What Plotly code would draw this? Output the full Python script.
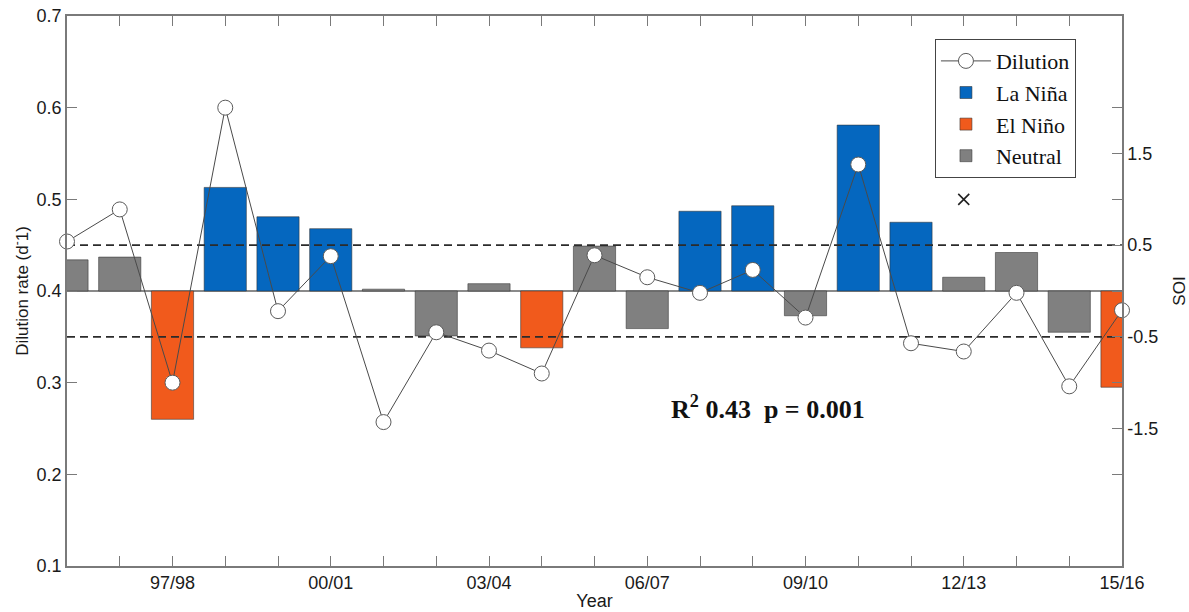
import plotly.graph_objects as go

# Austral summer seasons
seasons = ["95/96", "96/97", "97/98", "98/99", "99/00", "00/01", "01/02",
           "02/03", "03/04", "04/05", "05/06", "06/07", "07/08", "08/09",
           "09/10", "10/11", "11/12", "12/13", "13/14", "14/15", "15/16"]

# ENSO phase of each season
phase = ["Neutral", "Neutral", "El Niño", "La Niña", "La Niña", "La Niña", "Neutral",
         "Neutral", "Neutral", "El Niño", "Neutral", "Neutral", "La Niña", "La Niña",
         "Neutral", "La Niña", "La Niña", "Neutral", "Neutral", "Neutral", "El Niño"]

# Southern Oscillation Index (right axis)
soi = [0.34, 0.37, -1.40, 1.13, 0.81, 0.68, 0.02,
       -0.49, 0.08, -0.62, 0.49, -0.41, 0.87, 0.93,
       -0.27, 1.81, 0.75, 0.15, 0.42, -0.45, -1.05]

# Dilution rate, d-1 (left axis)
dilution = [0.454, 0.489, 0.300, 0.600, 0.378, 0.438, 0.257,
            0.355, 0.335, 0.310, 0.439, 0.415, 0.398, 0.423,
            0.371, 0.538, 0.343, 0.334, 0.398, 0.296, 0.379]

# Value flagged with a cross
flag_season = ["12/13"]
flag_dilution = [0.50]

# SOI thresholds shown as dashed lines
soi_thresholds = [0.5, -0.5]

# Labelled seasons on the x axis
labelled = ["97/98", "00/01", "03/04", "06/07", "09/10", "12/13", "15/16"]

phase_colors = {"La Niña": "#0567BF", "El Niño": "#F15A1C", "Neutral": "#808080"}
phase_order = ["La Niña", "El Niño", "Neutral"]

AXIS_COLOR = "#7a7a7a"
SANS = "Liberation Sans, Arial, sans-serif"
SERIF = "Liberation Serif, Times New Roman, serif"
TICK_FONT = dict(family=SANS, size=18, color="#1a1a1a")

fig = go.Figure()

# SOI bars, one trace per ENSO phase
for rank, ph in enumerate(phase_order, start=2):
    xs = [s for s, p in zip(seasons, phase) if p == ph]
    ys = [v for v, p in zip(soi, phase) if p == ph]
    fig.add_trace(go.Bar(
        x=xs, y=ys, base=0, name=ph, width=0.8,
        marker=dict(color=phase_colors[ph], line=dict(color="rgba(50,50,50,0.55)", width=1)),
        yaxis="y", legendrank=rank,
    ))

# Dashed SOI threshold lines
for thr in soi_thresholds:
    fig.add_trace(go.Scatter(
        x=[seasons[0], seasons[-1]], y=[thr, thr], mode="lines",
        line=dict(color="#2b2b2b", width=1.6, dash="8px,5px"),
        showlegend=False, hoverinfo="skip", yaxis="y",
    ))

# Dilution rate series
fig.add_trace(go.Scatter(
    x=seasons, y=dilution, mode="lines+markers", name="Dilution",
    line=dict(color="#4a4a4a", width=1),
    marker=dict(symbol="circle", size=15, color="white", line=dict(color="#5a5a5a", width=1)),
    yaxis="y2", legendrank=1, cliponaxis=False,
))

fig.add_trace(go.Scatter(
    x=flag_season, y=flag_dilution, mode="markers",
    marker=dict(symbol="x-thin", size=11, line=dict(color="#222222", width=1.6)),
    showlegend=False, yaxis="y2",
))

fig.add_annotation(
    x=0.664, y=0.255, xref="paper", yref="paper", showarrow=False,
    text="R<sup>2</sup> 0.43&nbsp;&nbsp;p = 0.001",
    font=dict(family=SERIF, size=26, color="#111111", weight="bold"),
)

fig.update_layout(
    width=1189, height=612,
    margin=dict(l=67, r=67, t=16, b=46),
    paper_bgcolor="white", plot_bgcolor="white",
    barmode="overlay",
    showlegend=True,
    legend=dict(
        x=0.8227, y=0.958, xanchor="left", yanchor="top",
        bgcolor="white", bordercolor="#444444", borderwidth=1,
        font=dict(family=SERIF, size=22, color="#111111"),
        tracegroupgap=0, itemwidth=50,
    ),
    xaxis=dict(
        type="category", categoryorder="array", categoryarray=seasons,
        range=[0, len(seasons) - 1],
        tickmode="array", tickvals=seasons,
        ticktext=[s if s in labelled else "" for s in seasons],
        ticks="inside", ticklen=10, tickcolor=AXIS_COLOR, tickwidth=1,
        showline=True, linecolor=AXIS_COLOR, linewidth=1.5, mirror="ticks",
        showgrid=False, zeroline=False, tickfont=TICK_FONT, automargin=False,
        title=dict(text="Year", font=dict(family=SANS, size=18, color="#1a1a1a"), standoff=2),
    ),
    yaxis=dict(
        side="right", range=[-3, 3],
        tickmode="array", tickvals=[1.5, 0.5, -0.5, -1.5],
        ticktext=["1.5", "0.5", "-0.5", "-1.5"],
        ticks="inside", ticklen=10, tickcolor=AXIS_COLOR, tickwidth=1,
        showline=True, linecolor=AXIS_COLOR, linewidth=1.5,
        showgrid=False, zeroline=True, zerolinecolor="#8a8a8a", zerolinewidth=1.5,
        tickfont=TICK_FONT, automargin=False,
        title=dict(text="SOI", font=dict(family=SANS, size=17, color="#1a1a1a"), standoff=18),
    ),
    yaxis2=dict(
        side="left", overlaying="y", range=[0.1, 0.7], dtick=0.1, tick0=0.1,
        tickformat=".1f",
        ticks="inside", ticklen=10, tickcolor=AXIS_COLOR, tickwidth=1,
        showline=True, linecolor=AXIS_COLOR, linewidth=1.5, mirror="ticks",
        showgrid=False, zeroline=False, tickfont=TICK_FONT, automargin=False,
        title=dict(text="Dilution rate (d<sup>-</sup>1)", font=dict(family=SANS, size=17, color="#1a1a1a"), standoff=4),
    ),
)

fig.write_html("out.html")
